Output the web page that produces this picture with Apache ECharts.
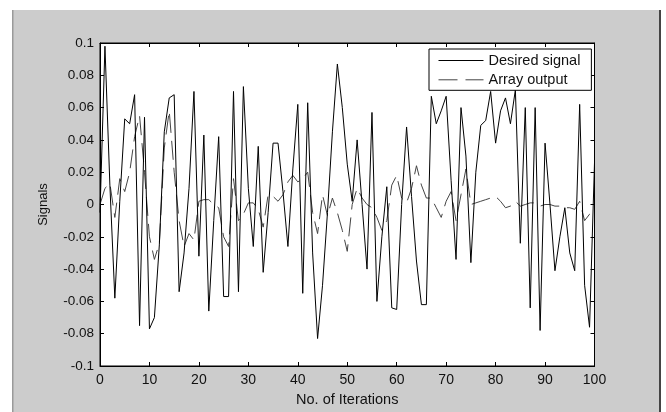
<!DOCTYPE html>
<html>
<head>
<meta charset="utf-8">
<script src="https://cdn.jsdelivr.net/npm/echarts@6/dist/echarts.min.js"></script>
<style>
html,body{margin:0;padding:0;background:#fff;}
#chart{width:666px;height:412px;}
</style>
</head>
<body>
<div id="chart"></div>
<script>
const iterations = [0,1,2,3,4,5,6,7,8,9,10,11,12,13,14,15,16,17,18,19,20,21,22,23,24,25,26,27,28,29,30,31,32,33,34,35,36,37,38,39,40,41,42,43,44,45,46,47,48,49,50,51,52,53,54,55,56,57,58,59,60,61,62,63,64,65,66,67,68,69,70,71,72,73,74,75,76,77,78,79,80,81,82,83,84,85,86,87,88,89,90,91,92,93,94,95,96,97,98,99,100];

const desiredSignal = [
 -0.005, 0.098, 0.012, -0.058, 0.002, 0.053, 0.050, 0.068, -0.075, 0.054,
 -0.077, -0.070, -0.025, 0.045, 0.066, 0.068, -0.054, -0.030, 0.010, 0.070,
 -0.032, 0.043, -0.066, -0.010, 0.042, -0.057, -0.057, 0.070, -0.054, 0.073,
 0.010, -0.026, 0.036, -0.042, -0.005, 0.038, 0.038, 0.008, -0.026, 0.022,
 0.062, -0.055, 0.063, -0.030, -0.083, -0.050, -0.005, 0.045, 0.087, 0.060,
 0.025, 0.002, 0.040, 0.000, -0.040, 0.057, -0.060, -0.020, 0.011, -0.064,
 -0.065, 0.000, 0.048, 0.005, -0.035, -0.062, -0.062, 0.067, 0.050, 0.058,
 0.067, 0.015, -0.034, 0.060, 0.030, -0.036, 0.020, 0.049, 0.052, 0.070,
 0.038, 0.058, 0.066, 0.050, 0.071, -0.024, 0.060, -0.064, 0.060, -0.078,
 0.038, 0.000, -0.041, -0.020, -0.002, -0.030, -0.041, 0.062, -0.050, -0.076,
 0.026
];

const arrayOutput = [
 0.000, 0.010, 0.013, -0.008, 0.016, 0.008, 0.020, 0.042, 0.055, 0.020,
 -0.020, -0.034, -0.024, 0.035, 0.058, 0.020, -0.010, -0.026, -0.018, -0.022,
 0.002, 0.003, 0.003, 0.000, -0.002, -0.020, -0.026, 0.016, -0.010, -0.006,
 0.001, 0.001, -0.003, -0.014, 0.006, 0.005, 0.002, 0.006, 0.014, 0.018,
 0.014, 0.016, 0.020, -0.005, -0.018, 0.006, -0.007, 0.004, -0.005, -0.016,
 -0.029, 0.000, 0.010, 0.004, 0.000, -0.002, -0.008, -0.016, -0.010, 0.012,
 0.018, 0.004, 0.001, 0.010, 0.024, 0.012, 0.004, 0.004, -0.002, -0.008,
 0.002, 0.008, -0.010, 0.006, 0.022, 0.000, 0.001, 0.002, 0.003, 0.004,
 0.005, 0.002, -0.002, -0.001, 0.002, -0.001, 0.000, 0.001, 0.001, -0.001,
 0.000, 0.000, -0.001, -0.001, -0.002, -0.002, -0.003, 0.002, -0.010, -0.006,
 -0.007
];

const xTicks = [0,10,20,30,40,50,60,70,80,90,100];
const yTicks = [-0.1,-0.08,-0.06,-0.04,-0.02,0,0.02,0.04,0.06,0.08,0.1];
const seriesNames = ['Desired signal', 'Array output'];
const axisTitles = {x: 'No. of Iterations', y: 'Signals'};

function pairs(xs, ys){ return xs.map((x,i)=>[x, ys[i]]); }

const chart = echarts.init(document.getElementById('chart'), null, {renderer:'canvas'});
const font = 'Liberation Sans, Arial, sans-serif';
const tickStyle = {show:true, inside:true, length:4, lineStyle:{color:'#000', width:1}};
const axLine = {show:true, onZero:false, lineStyle:{color:'#000', width:1}};

chart.setOption({
  animation:false,
  backgroundColor:'#cccccc',
  textStyle:{fontFamily:font},
  graphic:[
    {type:'rect', shape:{x:0,y:0,width:666,height:10}, style:{fill:'#fff'}, silent:true},
    {type:'rect', shape:{x:0,y:0,width:12,height:412}, style:{fill:'#fff'}, silent:true},
    {type:'rect', shape:{x:661,y:0,width:5,height:412}, style:{fill:'#fff'}, silent:true},
    {type:'rect', shape:{x:12,y:10,width:1.5,height:402}, style:{fill:'#9a9a9a'}, silent:true},
    {type:'rect', shape:{x:659,y:10,width:2,height:402}, style:{fill:'#444'}, silent:true}
  ],
  grid:{left:100, top:43, right:71.5, bottom:35, show:true, backgroundColor:'#fff', borderColor:'#000', borderWidth:1},
  legend:{
    show:true, left:429, top:49, orient:'vertical',
    backgroundColor:'#fff', borderColor:'#000', borderWidth:1, borderRadius:0,
    padding:[4,11,3,9], itemWidth:45, itemHeight:14, itemGap:4.3,
    itemStyle:{opacity:0},
    lineStyle:{width:1},
    textStyle:{fontSize:14.5, color:'#111', fontFamily:font},
    data:seriesNames
  },
  xAxis:[
    {type:'value', min:0, max:100, interval:10, position:'bottom',
     name:axisTitles.x, nameLocation:'middle', nameGap:26,
     nameTextStyle:{fontSize:14.5, color:'#111', fontFamily:font},
     axisLine:axLine, axisTick:tickStyle,
     axisLabel:{fontSize:14, color:'#111', margin:7, fontFamily:font, formatter:v=>String(xTicks[Math.round(v/10)])},
     splitLine:{show:false}},
    {type:'value', min:0, max:100, interval:10, position:'top',
     axisLine:axLine, axisTick:tickStyle,
     axisLabel:{show:false}, splitLine:{show:false}}
  ],
  yAxis:[
    {type:'value', min:-0.1, max:0.1, interval:0.02, position:'left',
     name:axisTitles.y, nameLocation:'middle', nameGap:50, nameRotate:90,
     nameTextStyle:{fontSize:13, color:'#111', fontFamily:font},
     axisLine:axLine, axisTick:tickStyle,
     axisLabel:{fontSize:13.5, color:'#111', margin:6, fontFamily:font,
       formatter:v=>{const t=yTicks[Math.round((v+0.1)/0.02)]; return String(t);}},
     splitLine:{show:false}},
    {type:'value', min:-0.1, max:0.1, interval:0.02, position:'right',
     axisLine:axLine, axisTick:tickStyle,
     axisLabel:{show:false}, splitLine:{show:false}}
  ],
  series:[
    {name:seriesNames[0], type:'line', xAxisIndex:0, yAxisIndex:0,
     data:pairs(iterations, desiredSignal), symbol:'none', showSymbol:false,
     lineStyle:{color:'#000', width:1}, itemStyle:{color:'#000'}, z:3},
    {name:seriesNames[1], type:'line', xAxisIndex:0, yAxisIndex:0,
     data:pairs(iterations, arrayOutput), symbol:'none', showSymbol:false,
     lineStyle:{color:'#444', width:1, type:[19,8]}, itemStyle:{color:'#444'}, z:2}
  ]
});
</script>
</body>
</html>
